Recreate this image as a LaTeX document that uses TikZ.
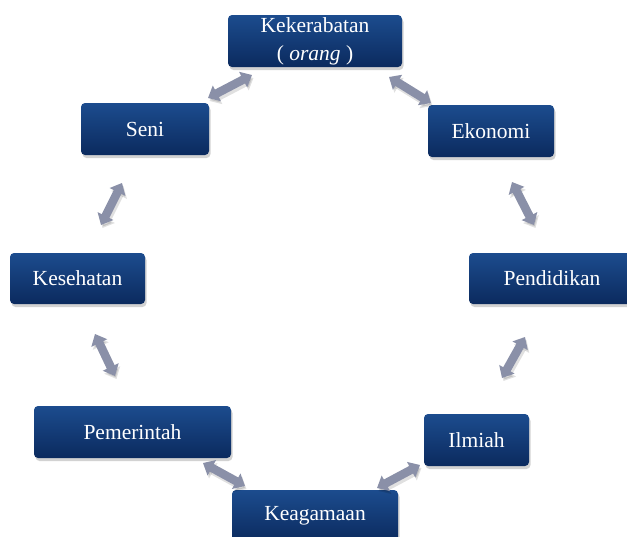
\documentclass[tikz,border=0pt]{standalone}
\usepackage{fontspec}
\setmainfont{Liberation Serif}
\usetikzlibrary{arrows.meta,shadows}
\definecolor{boxtop}{RGB}{28,76,142}
\definecolor{boxbot}{RGB}{11,42,94}
\definecolor{arrcol}{RGB}{138,144,168}
\tikzset{
  box/.style={rounded corners=4pt, top color=boxtop, bottom color=boxbot, draw=none,
    text=white, font=\fontsize{21.5}{28}\selectfont, align=center,
    drop shadow={shadow xshift=1.5pt, shadow yshift=-3pt, opacity=0.35},
    minimum height=52pt, inner sep=0pt},
  dblarrow/.style={line width=8.5pt, draw=arrcol,
    {Triangle[width=17pt,length=10pt]}-{Triangle[width=17pt,length=10pt]}},
  arrshadow/.style={line width=8.5pt, draw=black, opacity=0.12,
    {Triangle[width=17pt,length=10pt]}-{Triangle[width=17pt,length=10pt]}}
}
\begin{document}
\begin{tikzpicture}[x=1pt,y=-1pt]
\useasboundingbox (0,0) rectangle (627,536);
\clip (0,0) rectangle (627,536);
\fill[white] (0,0) rectangle (627,536);
% nodes
\node[box, minimum width=174pt] (kek) at (315,41) {Kekerabatan\\( \textit{orang} )};
\node[box, minimum width=128pt] (seni) at (145,129) {Seni};
\node[box, minimum width=126pt] (eko) at (491,131) {Ekonomi};
\node[box, minimum width=135pt, minimum height=51pt] (kes) at (77.5,278.5) {Kesehatan};
\node[box, minimum width=166pt, minimum height=51pt] (pend) at (552,278.5) {Pendidikan};
\node[box, minimum width=197pt] (pem) at (132.5,432) {Pemerintah};
\node[box, minimum width=105pt] (ilm) at (476.5,440) {Ilmiah};
\node[box, minimum width=166pt] (kea) at (315,516) {Keagamaan};
% arrow end points
\coordinate (a1) at (252,75);  \coordinate (a2) at (208,98);
\coordinate (b1) at (389,77);  \coordinate (b2) at (431,103);
\coordinate (c1) at (122,183); \coordinate (c2) at (101,225);
\coordinate (d1) at (512,182); \coordinate (d2) at (534,225);
\coordinate (e1) at (95,334);  \coordinate (e2) at (115,376);
\coordinate (f1) at (525,337); \coordinate (f2) at (502,378);
\coordinate (g1) at (203,463); \coordinate (g2) at (245,486);
\coordinate (h1) at (420,465); \coordinate (h2) at (377,488);
% shadows
\foreach \p/\q in {a1/a2,b1/b2,c1/c2,d1/d2,e1/e2,f1/f2,g1/g2,h1/h2}{
  \draw[arrshadow] ([shift={(1.5,3)}]\p) -- ([shift={(1.5,3)}]\q);
}
% arrows
\draw[dblarrow] (a1) -- (a2);
\draw[dblarrow] (b1) -- (b2);
\draw[dblarrow] (c1) -- (c2);
\draw[dblarrow] (d1) -- (d2);
\draw[dblarrow] (e1) -- (e2);
\draw[dblarrow] (f1) -- (f2);
\draw[dblarrow] (g1) -- (g2);
\draw[dblarrow] (h1) -- (h2);
\end{tikzpicture}
\end{document}
